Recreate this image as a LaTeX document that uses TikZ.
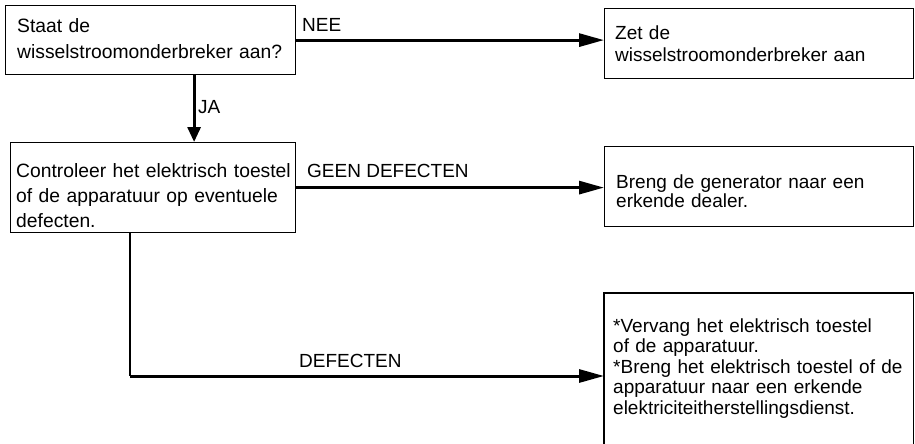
\documentclass[tikz,border=0pt]{standalone}
\usepackage{fontspec}
\setmainfont{Liberation Sans}
\usetikzlibrary{arrows.meta,calc}
\begin{document}
\begin{tikzpicture}[x=1pt,y=-1pt,
  box/.style={draw=black, line width=1.2pt, inner sep=0pt, anchor=north west},
  txt/.style={anchor=base west, inner sep=0pt, align=left, text width=#1},
  lbl/.style={anchor=base west, inner sep=0pt, font=\fontsize{19}{23}\selectfont},
  harrow/.style={line width=3pt, -{Triangle[length=25pt,width=13pt]}},
  varrow/.style={line width=3pt, -{Triangle[length=15pt,width=13pt]}},
  thinline/.style={line width=1.2pt}
]
\useasboundingbox (0,0) rectangle (915,444);
\fill[white] (0,0) rectangle (915,444);

% boxes
\node[box, minimum width=290.5pt, minimum height=69pt] (b1) at (4.5,5) {};
\node[box, minimum width=309pt, minimum height=70pt] (b2) at (604,8) {};
\node[box, minimum width=285.5pt, minimum height=90pt] (b3) at (9.5,142) {};
\node[box, minimum width=309pt, minimum height=80pt] (b4) at (604,146) {};
\node[box, draw=none, minimum width=308pt, minimum height=165pt] (b5) at (604,293) {};
\draw[thinline] (b5.south west) -- (b5.north west) -- (b5.north east) -- (b5.south east);

% texts
\node[txt=280pt, font=\fontsize{19.3}{26}\selectfont] (t1) at (17,33)
  {Staat de\\wisselstroomonderbreker aan?};
\node[txt=295pt, font=\fontsize{19}{22}\selectfont] (t2) at (615,40)
  {Zet de\\wisselstroomonderbreker aan};
\node[txt=278pt, font=\fontsize{19.3}{25}\selectfont] (t3) at (16,177)
  {Controleer het elektrisch toestel\\of de apparatuur op eventuele\\defecten.};
\node[txt=295pt, font=\fontsize{19}{19}\selectfont] (t4) at (616,188)
  {Breng de generator naar een\\erkende dealer.};
\node[txt=298pt, font=\fontsize{19}{20.5}\selectfont] (t5) at (613,332)
  {*Vervang het elektrisch toestel\\{}of de apparatuur.\\{}*Breng het elektrisch toestel of de\\{}apparatuur naar een erkende\\{}elektriciteitherstellingsdienst.};

% labels
\node[lbl] (lnee) at (302,32) {NEE};
\node[lbl] (lja) at (198,113) {JA};
\node[lbl] (lgeen) at (307,177) {GEEN DEFECTEN};
\node[lbl] (ldef) at (299,367) {DEFECTEN};

% connectors
\draw[harrow] (b1.east) -- (b1.east -| b2.west);
\coordinate (jatop) at ($(b1.south west)!0.65!(b1.south east)$);
\draw[varrow] (jatop) -- (jatop |- b3.north);
\draw[harrow] (b3.east) -- (b3.east -| b4.west);
\coordinate (corner) at (130,376);
\draw[thinline] (b3.south -| corner) -- (corner);
\draw[harrow] (corner) -- (corner -| b5.west);
\end{tikzpicture}
\end{document}
